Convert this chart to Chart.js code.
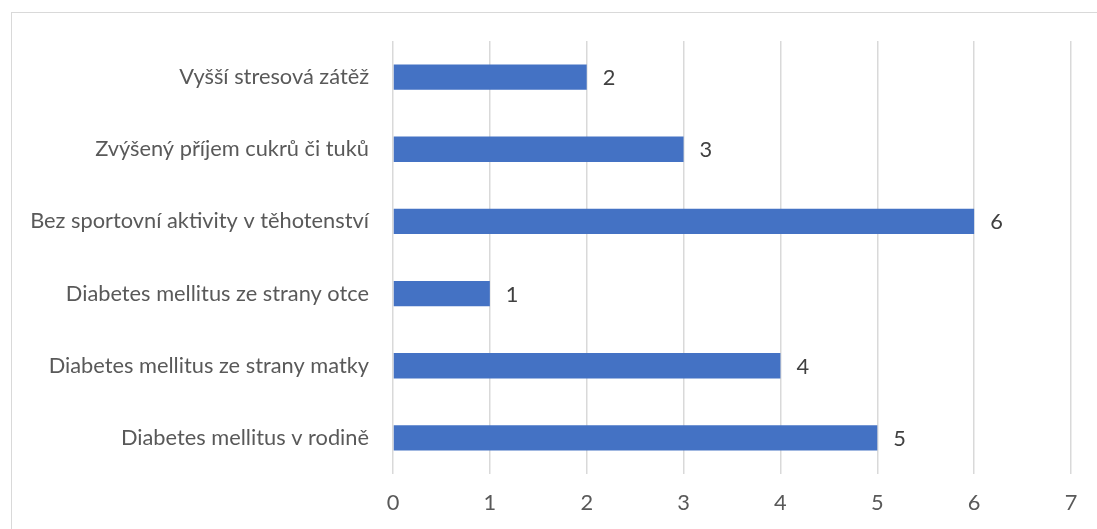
<!DOCTYPE html>
<html>
<head>
<meta charset="utf-8">
<script src="https://cdn.jsdelivr.net/npm/chart.js@4"></script>
<style>
html,body{margin:0;padding:0;background:#fff;overflow:hidden;}
#wrap{position:relative;width:1097px;height:529px;}
#frame{position:absolute;left:11px;top:12px;width:1200px;height:600px;border:1px solid #d9d9d9;box-sizing:border-box;}
canvas{position:absolute;left:0;top:0;}
</style>
</head>
<body>
<div id="wrap"><div id="frame"></div><canvas id="c" width="1097" height="529"></canvas></div>
<script>
const categories = [
  "Vyšší stresová zátěž",
  "Zvýšený příjem cukrů či tuků",
  "Bez sportovní aktivity v těhotenství",
  "Diabetes mellitus ze strany otce",
  "Diabetes mellitus ze strany matky",
  "Diabetes mellitus v rodině"
];
const values = [2, 3, 6, 1, 4, 5];
const xTicks = [0, 1, 2, 3, 4, 5, 6, 7];

const FONT = "Lato, 'Open Sans', sans-serif";
const FSIZE = 21.8;

const dataLabels = {
  id: 'dataLabels',
  afterDatasetsDraw(chart) {
    const ctx = chart.ctx;
    const meta = chart.getDatasetMeta(0);
    ctx.save();
    ctx.fillStyle = '#404040';
    ctx.font = FSIZE + "px " + FONT;
    ctx.textAlign = 'left';
    ctx.textBaseline = 'middle';
    meta.data.forEach((bar, i) => {
      ctx.fillText(String(values[i]), bar.x + 16, bar.y + 1);
    });
    ctx.restore();
  }
};

new Chart(document.getElementById('c'), {
  type: 'bar',
  data: {
    labels: categories,
    datasets: [{
      data: values,
      backgroundColor: '#4472C4',
      borderWidth: 0,
      categoryPercentage: 1,
      barPercentage: 0.35
    }]
  },
  options: {
    indexAxis: 'y',
    responsive: false,
    animation: false,
    devicePixelRatio: 1,
    layout: { padding: { top: 41, right: 26, bottom: 0, left: 0 } },
    plugins: { legend: { display: false }, tooltip: { enabled: false } },
    scales: {
      x: {
        min: 0, max: 7,
        afterBuildTicks(scale) { scale.ticks = xTicks.map(v => ({ value: v })); },
        afterFit(scale) { scale.height = 55; },
        grid: { color: '#d9d9d9', lineWidth: 1.5, drawTicks: false },
        border: { display: false },
        ticks: { color: '#595959', font: { family: FONT, size: FSIZE }, padding: 16 }
      },
      y: {
        afterFit(scale) { scale.width = 393; },
        grid: { display: false, drawTicks: false },
        border: { display: false },
        ticks: { color: '#595959', font: { family: FONT, size: FSIZE }, padding: 24 }
      }
    }
  },
  plugins: [dataLabels]
});
</script>
</body>
</html>
